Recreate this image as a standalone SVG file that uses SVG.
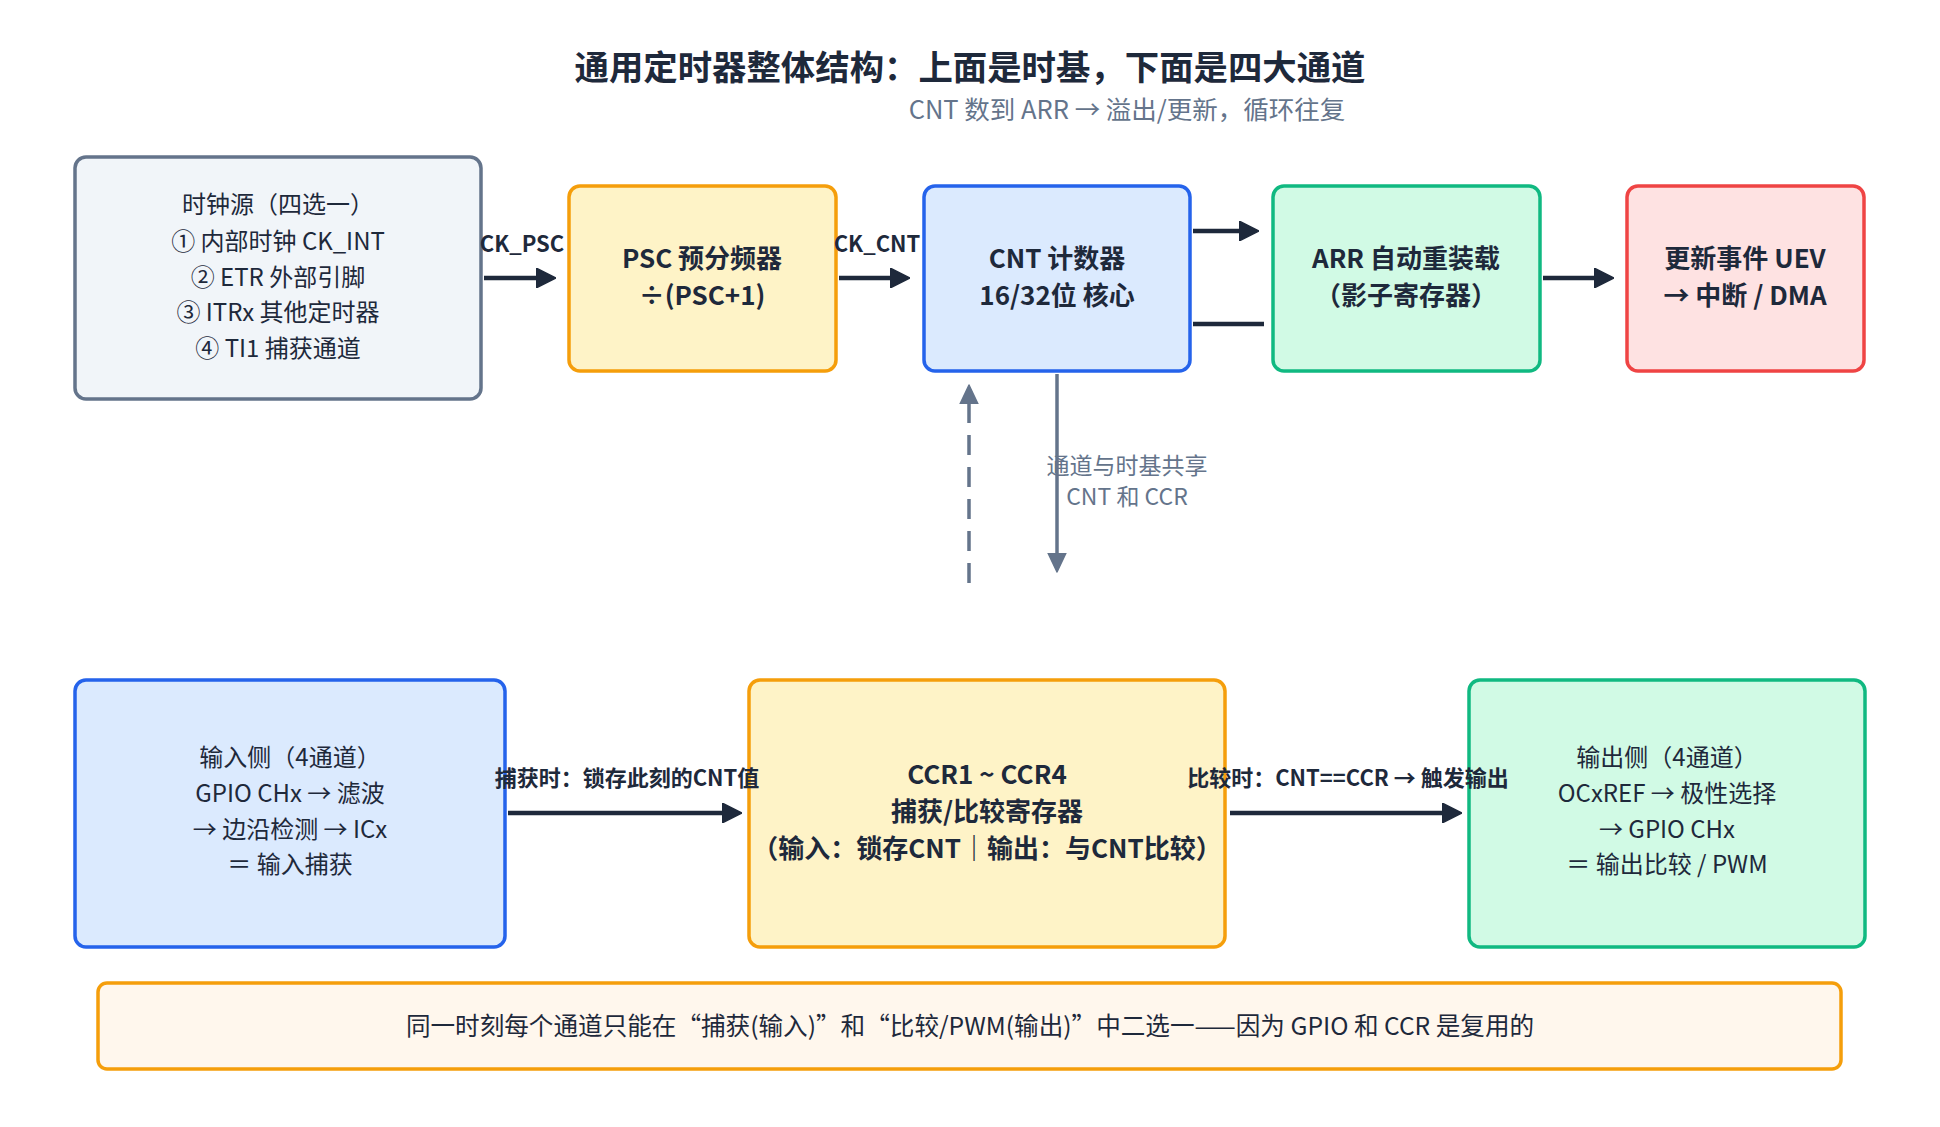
<svg xmlns="http://www.w3.org/2000/svg" width="1940" height="1127" viewBox="0 0 1940 1127">
<defs>
<style>
text{font-family:"Noto Sans CJK SC","Noto Sans",sans-serif;text-anchor:middle;fill:#1e293b}
.title{font-size:34.4px;font-weight:700}
.sub{font-size:25.5px;fill:#64748b}
.body{font-size:24px}
.notetext{font-size:24.6px}
.bold{font-size:26px;font-weight:700}
.elab{font-size:22px;font-weight:700}
.glab{font-size:23px;fill:#64748b}
.box{stroke-width:3.5}
.gray{fill:#f1f5f9;stroke:#64748b}
.yellow{fill:#fef3c7;stroke:#f59e0b}
.blue{fill:#dbeafe;stroke:#2563eb}
.green{fill:#d1fae5;stroke:#10b981}
.red{fill:#fee2e2;stroke:#ef4444}
.note{fill:#fff7ed;stroke:#f59e0b}
.dark{stroke:#1e293b;stroke-width:4.5;fill:none}
.slate{stroke:#64748b;stroke-width:3.5;fill:none}
.dash{stroke-dasharray:20 12}
</style>
<marker id="ah" viewBox="0 0 20 20" refX="10" refY="10" markerWidth="20" markerHeight="20" markerUnits="userSpaceOnUse" orient="auto">
<path d="M0,0 L20,10 L0,20 z" fill="#1e293b" stroke="#1e293b" stroke-width="1.5" stroke-linejoin="round"/>
</marker>
<marker id="ahg" viewBox="0 0 20 20" refX="10" refY="10" markerWidth="20" markerHeight="20" markerUnits="userSpaceOnUse" orient="auto">
<path d="M0,1 L19,10 L0,19 z" fill="#64748b" stroke="#64748b" stroke-width="1.5" stroke-linejoin="round"/>
</marker>
</defs>
<rect width="1940" height="1127" fill="#ffffff"/>

<text class="title" x="970" y="80">通用定时器整体结构：上面是时基，下面是四大通道</text>
<text class="sub" x="1127" y="119">CNT 数到 ARR → 溢出/更新，循环往复</text>

<g id="clock-source">
<rect class="box gray" x="75" y="157" width="406" height="242" rx="11"/>
<text class="body" x="278" y="213">时钟源（四选一）</text>
<text class="body" x="278" y="250">① 内部时钟 CK_INT</text>
<text class="body" x="278" y="286">② ETR 外部引脚</text>
<text class="body" x="278" y="321">③ ITRx 其他定时器</text>
<text class="body" x="278" y="357">④ TI1 捕获通道</text>
</g>

<g id="psc">
<rect class="box yellow" x="569" y="186" width="267" height="185" rx="11"/>
<text class="bold" x="702" y="268">PSC 预分频器</text>
<text class="bold" x="702" y="305">÷(PSC+1)</text>
</g>

<g id="cnt">
<rect class="box blue" x="924" y="186" width="266" height="185" rx="11"/>
<text class="bold" x="1057" y="268">CNT 计数器</text>
<text class="bold" x="1057" y="305">16/32位 核心</text>
</g>

<g id="arr">
<rect class="box green" x="1273" y="186" width="267" height="185" rx="11"/>
<text class="bold" x="1406" y="268">ARR 自动重装载</text>
<text class="bold" x="1406" y="305">（影子寄存器）</text>
</g>

<g id="uev">
<rect class="box red" x="1627" y="186" width="237" height="185" rx="11"/>
<text class="bold" x="1745" y="268">更新事件 UEV</text>
<text class="bold" x="1745" y="305">→ 中断 / DMA</text>
</g>

<g id="input">
<rect class="box blue" x="75" y="680" width="430" height="267" rx="11"/>
<text class="body" x="290" y="766">输入侧（4通道）</text>
<text class="body" x="290" y="802">GPIO CHx → 滤波</text>
<text class="body" x="290" y="838">→ 边沿检测 → ICx</text>
<text class="body" x="290" y="873">＝ 输入捕获</text>
</g>

<g id="ccr">
<rect class="box yellow" x="749" y="680" width="476" height="267" rx="11"/>
<text class="bold" x="987" y="784">CCR1 ~ CCR4</text>
<text class="bold" x="987" y="821">捕获/比较寄存器</text>
<text class="bold" x="987" y="858">（输入：锁存CNT｜输出：与CNT比较）</text>
</g>

<g id="output">
<rect class="box green" x="1469" y="680" width="396" height="267" rx="11"/>
<text class="body" x="1667" y="766">输出侧（4通道）</text>
<text class="body" x="1667" y="802">OCxREF → 极性选择</text>
<text class="body" x="1667" y="838">→ GPIO CHx</text>
<text class="body" x="1667" y="873">＝ 输出比较 / PWM</text>
</g>

<g id="note">
<rect class="box note" x="98" y="983" width="1743" height="86" rx="9"/>
<text class="notetext" x="970" y="1035">同一时刻每个通道只能在“捕获(输入)”和“比较/PWM(输出)”中二选一——因为 GPIO 和 CCR 是复用的</text>
</g>

<g id="connectors">
<line class="dark" x1="484" y1="278" x2="546" y2="278" marker-end="url(#ah)"/>
<text class="elab" x="522" y="252">CK_PSC</text>
<line class="dark" x1="839" y1="278" x2="900" y2="278" marker-end="url(#ah)"/>
<text class="elab" x="877" y="252">CK_CNT</text>
<line class="dark" x1="1193" y1="231" x2="1249" y2="231" marker-end="url(#ah)"/>
<line class="dark" x1="1193" y1="324" x2="1264" y2="324"/>
<line class="dark" x1="1543" y1="278" x2="1604" y2="278" marker-end="url(#ah)"/>
<line class="slate" x1="1057" y1="374" x2="1057" y2="563" marker-end="url(#ahg)"/>
<line class="slate dash" x1="969" y1="583" x2="969" y2="394" marker-end="url(#ahg)"/>
<text class="glab" x="1127" y="474">通道与时基共享</text>
<text class="glab" x="1127" y="505">CNT 和 CCR</text>
<line class="dark" x1="508" y1="813" x2="732" y2="813" marker-end="url(#ah)"/>
<text class="elab" x="627" y="786">捕获时：锁存此刻的CNT值</text>
<line class="dark" x1="1230" y1="813" x2="1452" y2="813" marker-end="url(#ah)"/>
<text class="elab" x="1348" y="786">比较时：CNT==CCR → 触发输出</text>
</g>
</svg>
